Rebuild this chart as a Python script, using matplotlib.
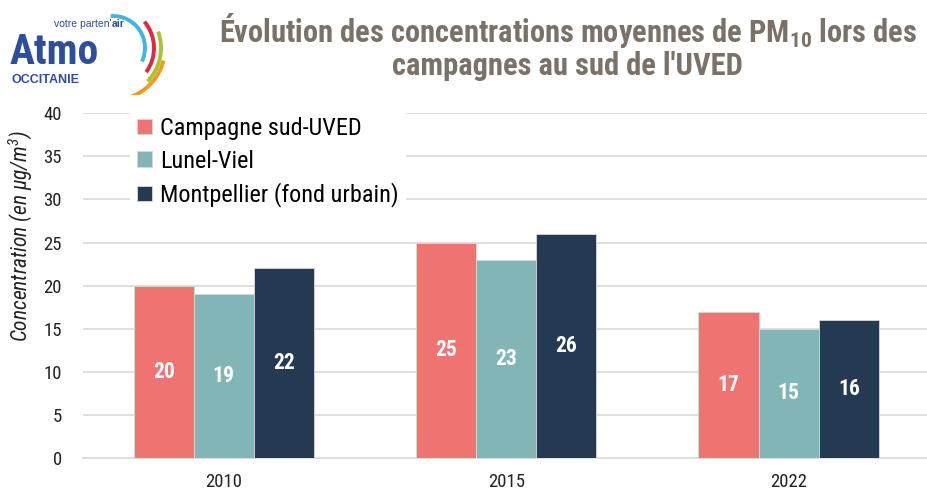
import numpy as np
import matplotlib.pyplot as plt
from matplotlib.patches import Arc

# Données
annees = ['2010', '2015', '2022']
campagne = [20, 25, 17]
lunel = [19, 23, 15]
montpellier = [22, 26, 16]
series = ['Campagne sud-UVED', 'Lunel-Viel', 'Montpellier (fond urbain)']
couleurs = ['#ef7370', '#82b6b6', '#233a52']

plt.rcParams['font.family'] = ['Roboto Condensed', 'DejaVu Sans']
plt.rcParams['mathtext.default'] = 'regular'

fig = plt.figure(figsize=(9.28, 4.9), dpi=100)
ax = fig.add_axes([0.089, 0.065, 0.913, 0.704])

x = np.arange(len(annees))
w = 0.213
for i, (vals, nom, c) in enumerate(zip([campagne, lunel, montpellier], series, couleurs)):
    pos = x + (i - 1) * w
    bars = ax.bar(pos, vals, w, color=c, label=nom, edgecolor='#d8d8d8', linewidth=0.6, zorder=3)
    for b, v in zip(bars, vals):
        ax.text(b.get_x() + b.get_width() / 2, v / 2, str(v), ha='center', va='center',
                color='white', fontsize=15.5, fontweight='bold', zorder=4)

ax.set_ylim(0, 40)
ax.set_yticks(range(0, 41, 5))
ax.set_xlim(-0.5, 2.5)
ax.set_xticks(x)
ax.set_xticklabels(annees)
ax.tick_params(axis='both', length=0, labelsize=13.5, colors='#222222')
ax.tick_params(axis='y', pad=15)
ax.tick_params(axis='x', pad=11)
ax.yaxis.grid(True, color='#dcdcdc', linewidth=1.3, zorder=0)
for s in ['top', 'right', 'left']:
    ax.spines[s].set_visible(False)
ax.spines['bottom'].set_color('#dcdcdc')
ax.spines['bottom'].set_linewidth(1.3)
ax.set_ylabel('Concentration (en µg/m$^3$)', fontsize=15.5, style='italic', color='#222222')
ax.yaxis.set_label_coords(-0.057, 0.643)

leg = ax.legend(loc='upper left', bbox_to_anchor=(0.056, 1.01), fontsize=17.5, frameon=True,
                facecolor='white', edgecolor='none', framealpha=1,
                handlelength=0.6, handleheight=0.6, handletextpad=0.35, labelspacing=0.4,
                borderpad=0.3, borderaxespad=0)
leg.set_zorder(5)

# Titre
titre_c = '#7a7268'
fig.text(0.612, 0.938, 'Évolution des concentrations moyennes de PM$_{10}$ lors des',
         ha='center', va='center', fontsize=22, fontweight='bold', color=titre_c)
fig.text(0.612, 0.866, "campagnes au sud de l'UVED",
         ha='center', va='center', fontsize=22, fontweight='bold', color=titre_c)

# Logo
lax = fig.add_axes([0.0, 1 - 95 / 490, 200 / 928, 95 / 490])
lax.set_xlim(0, 200)
lax.set_ylim(95, 0)
lax.axis('off')
logo_font = ['Liberation Sans', 'DejaVu Sans']
bleu = '#2e4e9c'
lax.text(10, 53, 'Atmo', fontsize=30, fontweight='bold', color=bleu, va='center', ha='left',
         family=['Roboto Condensed', 'DejaVu Sans'])
lax.text(112, 24, "votre parten'", fontsize=7.5, color=bleu, va='center', ha='right', family=logo_font)
lax.text(112, 24, 'air', fontsize=7.5, fontweight='bold', color=bleu, va='center', ha='left', family=logo_font)
lax.text(12, 80, 'OCCITANIE', fontsize=9, fontweight='bold', color=bleu, va='center', ha='left',
         family=logo_font)
arcs = [(32, '#3fb6e0', -25, 94), (41, '#e2283f', -36, 40), (48, '#a8c62b', -44, 20), (52, '#f39a1e', -100, -14)]
for r, c, t1, t2 in arcs:
    # axe y inversé : on inverse les angles
    lax.add_patch(Arc((113, 48), 2 * r, 2 * r, theta1=-t2, theta2=-t1, color=c, linewidth=2.8))

fig.savefig('out.png', dpi=100)
